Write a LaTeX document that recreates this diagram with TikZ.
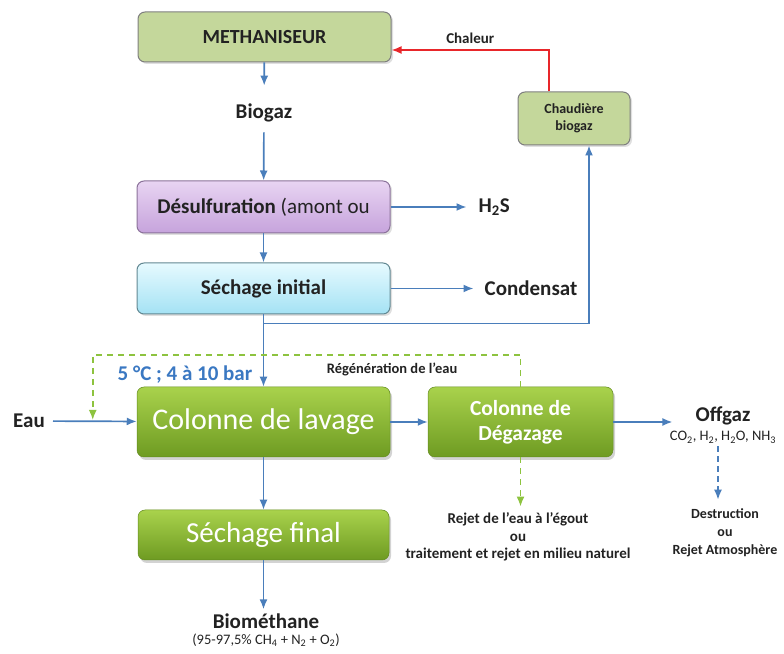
\documentclass[tikz,border=0pt]{standalone}
\usepackage{fontspec}
\setmainfont{Carlito}
\usetikzlibrary{positioning,arrows.meta,shadows}

\definecolor{txt}{HTML}{222222}
\definecolor{flowblue}{HTML}{4A7EBB}
\definecolor{condblue}{HTML}{3A78C2}
\definecolor{heatred}{HTML}{E8262A}
\definecolor{regengreen}{HTML}{8DC33F}
\definecolor{boxgray}{HTML}{7F7F7F}
\definecolor{olive}{HTML}{C4D79B}
\definecolor{lilactop}{HTML}{E8D4F2}
\definecolor{lilacbot}{HTML}{C6A3DC}
\definecolor{cyantop}{HTML}{E6FAFF}
\definecolor{cyanbot}{HTML}{A4E2F4}
\definecolor{greentop}{HTML}{A9D24C}
\definecolor{greenbot}{HTML}{6E9B22}

\begin{document}
\begin{tikzpicture}[x=1pt,y=1pt,
    box/.style={draw=boxgray,line width=1pt,rounded corners=7pt,minimum width=253pt,minimum height=51pt,text=txt,
        drop shadow={opacity=0.25,shadow xshift=2pt,shadow yshift=-2pt}},
    greenbox/.style={draw=greenbot!90!black,line width=0.5pt,rounded corners=7pt,top color=greentop,bottom color=greenbot,text=white,
        drop shadow={opacity=0.35,shadow xshift=2pt,shadow yshift=-3pt}},
    lbl/.style={inner sep=0pt,text=txt,font=\bfseries\fontsize{21}{23}\selectfont},
    small/.style={inner sep=0pt,text=txt,align=center,font=\bfseries\fontsize{14}{18}\selectfont},
    comp/.style={inner sep=0pt,text=txt,font=\fontsize{14.5}{16}\selectfont},
    flow/.style={draw=flowblue,line width=1.7pt,-{Latex[length=10pt,width=8pt]}},
    heat/.style={draw=heatred,line width=1.7pt,-{Latex[length=10pt,width=8pt]}},
    regen/.style={draw=regengreen,line width=1.7pt,dash pattern=on 6pt off 5pt,-{Latex[length=10pt,width=8pt]}}]
    \useasboundingbox (0,0) rectangle (784,653);
    % upper chain
    \node[box,fill=olive,minimum height=50pt,font=\bfseries\fontsize{20}{22}\selectfont](meth) at (264.5,616){METHANISEUR};
    \node[lbl](biogaz) at (264,540){Biogaz};
    \node[box,top color=lilactop,bottom color=lilacbot,draw=lilacbot!70!black,minimum height=52pt,font=\fontsize{21}{23}\selectfont](desulf) at (263.5,446){\textbf{Désulfuration} (amont ou};
    \node[lbl,right=88pt of desulf](h2s){H\textsubscript{2}S};
    \node[box,top color=cyantop,bottom color=cyanbot,draw=cyanbot!60!black,font=\bfseries\fontsize{21}{23}\selectfont](sechini) at (263.5,364.5){Séchage initial};
    \node[lbl,right=94pt of sechini](condensat){Condensat};
    \node[box,fill=olive,minimum width=112pt,minimum height=53pt,align=center,font=\bfseries\fontsize{14}{17}\selectfont](chaud) at (574,534.5){Chaudière\\biogaz};
    % washing
    \node[greenbox,minimum width=253pt,minimum height=70pt,font=\fontsize{30}{34}\selectfont](lavage) at (263.5,231){Colonne de lavage};
    \node[greenbox,minimum width=185pt,minimum height=70pt,align=center,font=\bfseries\fontsize{21.5}{25}\selectfont](degaz) at (520.5,231){Colonne de\\Dégazage};
    \node[greenbox,minimum width=251pt,minimum height=50pt,font=\fontsize{29}{32}\selectfont](sechfin) at (263.5,118){Séchage final};
    \node[lbl](eau) at (29,232){Eau};
    \node[lbl,text=condblue](cond) at (185,278){5 °C ; 4 à 10 bar};
    \node[lbl](offgaz) at (723,237){Offgaz};
    \node[comp,below=6pt of offgaz](offcomp){CO\textsubscript{2}, H\textsubscript{2}, H\textsubscript{2}O, NH\textsubscript{3}};
    \node[small](destr) at (725,120){Destruction\\ou\\Rejet Atmosphère};
    \node[small,font=\bfseries\fontsize{15}{17.5}\selectfont](rejet) at (518,116){Rejet de l’eau à l’égout\\ou\\traitement et rejet en milieu naturel};
    \node[lbl](biometh) at (266,32){Biométhane};
    \node[comp,below=5pt of biometh](biocomp){(95-97,5\% CH\textsubscript{4} + N\textsubscript{2} + O\textsubscript{2})};
    %
    \draw[flow,shorten >=18pt] (meth) -- (biogaz);
    \draw[flow,shorten <=10pt] (biogaz) -- (desulf);
    \draw[flow,shorten >=12pt] (desulf) -- (h2s);
    \draw[flow] (desulf) -- (sechini);
    \draw[flow,shorten >=11pt] (sechini) -- (condensat);
    \draw[flow] (sechini) -- (lavage);
    \coordinate[yshift=-9pt](split) at (sechini.south);
    \draw[flow] (split) -| ([xshift=15pt]chaud.south);
    \draw[heat] ([xshift=-25pt]chaud.north) |- ([yshift=-13pt]meth.east)
        node[pos=0.75,above=2pt,text=txt,font=\bfseries\fontsize{15}{17}\selectfont]{Chaleur};
    %
    \draw[flow,shorten <=8pt] (eau) -- (lavage);
    \draw[regen,shorten >=2pt] (degaz.north) -- ++(0,32) -| ([xshift=-44pt]lavage.west)
        node[pos=0.15,below=4pt,text=txt,font=\bfseries\fontsize{14.5}{16}\selectfont]{Régénération de l’eau};
    \draw[flow] (lavage) -- (degaz);
    \draw[flow,shorten >=23pt] (degaz.east) -- (degaz.east -| offgaz.west);
    \draw[flow,dash pattern=on 6pt off 4pt,shorten <=3pt,shorten >=9pt] ([xshift=-5pt]offcomp.south) -- ([xshift=-5pt]offcomp.south |- destr.north);
    \draw[regen,shorten >=6pt] (degaz.south) -- (degaz.south |- rejet.north);
    \draw[flow] (lavage) -- (sechfin);
    \draw[flow,shorten >=4pt] (sechfin) -- (sechfin.south |- biometh.north);
\end{tikzpicture}
\end{document}
